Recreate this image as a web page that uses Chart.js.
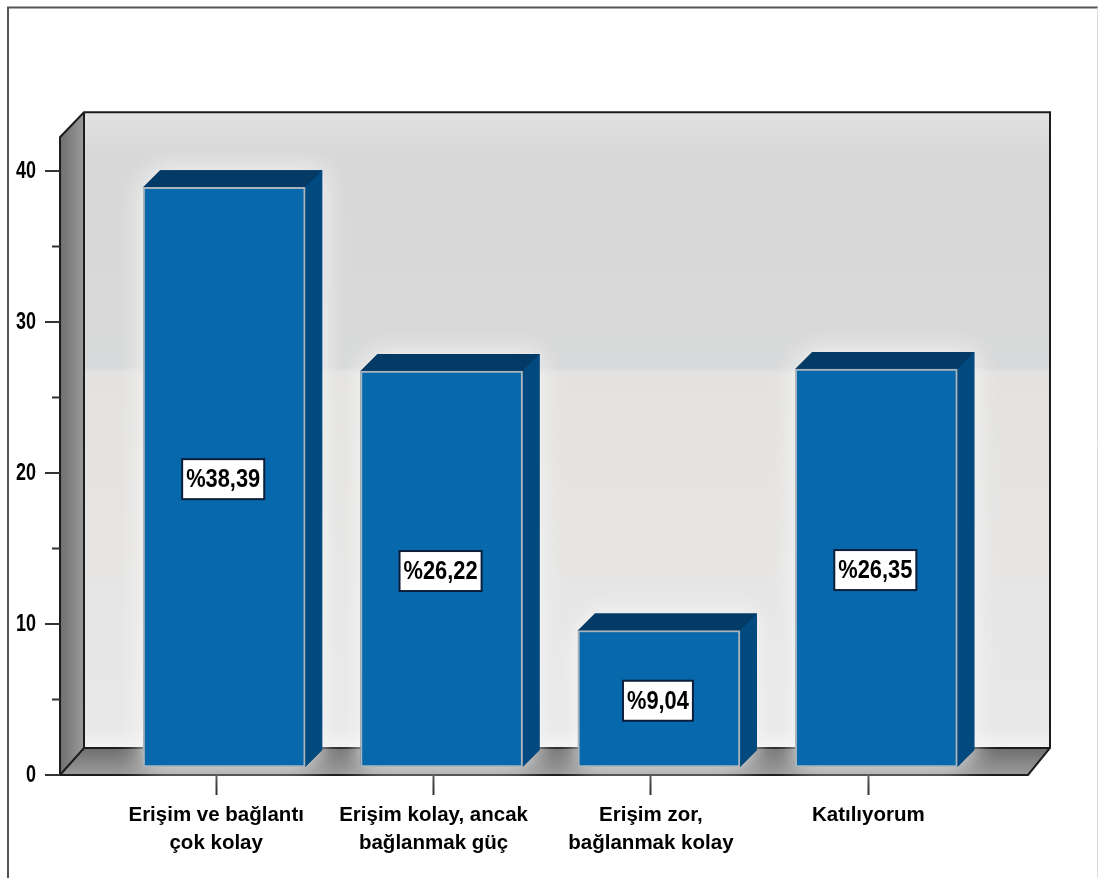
<!DOCTYPE html>
<html><head><meta charset="utf-8">
<style>html,body{margin:0;padding:0;background:#fff}canvas{display:block}</style>
<script src="https://cdn.jsdelivr.net/npm/chart.js@4"></script>
</head><body>
<canvas id="c" width="1101" height="878"></canvas>
<script>
const categories = [["Erişim ve bağlantı","çok kolay"],["Erişim kolay, ancak","bağlanmak güç"],["Erişim zor,","bağlanmak kolay"],["Katılıyorum",""]];
const values = [38.39, 26.22, 9.04, 26.35];
const pointLabels = ["%38,39","%26,22","%9,04","%26,35"];
const yTicks = [0,10,20,30,40];
const yMinorTicks = [5,15,25,35];

const SHIFT = 8, BAR_DEPTH = 17, WALL_DEPTH = 24;
const SANS = '"Liberation Sans",Arial,sans-serif';

function squeezedText(ctx,text,x,y,sx){
  ctx.save(); ctx.translate(x,y); ctx.scale(sx,1); ctx.fillText(text,0,0); ctx.restore();
}

const scene = {
  id:'scene',
  beforeDraw(chart){
    const {ctx, chartArea:a, scales:{y}} = chart;
    const y0 = y.getPixelForValue(0);
    const fl = a.left-47.5, fr = a.right+51;
    const bl = fl+WALL_DEPTH, br = fr+22, bb = y0-27, bt = a.top-21;
    ctx.save();
    ctx.fillStyle='#fff'; ctx.fillRect(0,0,chart.width,chart.height);
    ctx.strokeStyle='#555'; ctx.lineWidth=2;
    ctx.beginPath(); ctx.moveTo(8,878); ctx.lineTo(8,7.5); ctx.lineTo(1098,7.5); ctx.stroke();
    ctx.strokeStyle='#dcdcdc'; ctx.lineWidth=1;
    ctx.beginPath(); ctx.moveTo(1097.5,7.5); ctx.lineTo(1097.5,878); ctx.stroke();
    // back wall
    const g = ctx.createLinearGradient(0,bt,0,bb);
    g.addColorStop(0,'#e2e2e2'); g.addColorStop(.06,'#d8d8d8'); g.addColorStop(.4,'#d8d9da');
    g.addColorStop(.41,'#e3e2e0'); g.addColorStop(.97,'#e9e8e8'); g.addColorStop(1,'#f3f3f3');
    ctx.fillStyle=g; ctx.fillRect(bl,bt,br-bl,bb-bt);
    // side wall
    const gs = ctx.createLinearGradient(fl,0,bl,0);
    gs.addColorStop(0,'#6f6f6f'); gs.addColorStop(1,'#9a9a9a');
    ctx.fillStyle=gs;
    ctx.beginPath(); ctx.moveTo(fl,bt+25); ctx.lineTo(bl,bt); ctx.lineTo(bl,bb); ctx.lineTo(fl,y0); ctx.closePath(); ctx.fill();
    // floor
    const gf = ctx.createLinearGradient(0,bb,0,y0);
    gf.addColorStop(0,'#6e6e6e'); gf.addColorStop(1,'#9c9c9c');
    ctx.fillStyle=gf;
    ctx.beginPath(); ctx.moveTo(fl,y0); ctx.lineTo(bl,bb); ctx.lineTo(br,bb); ctx.lineTo(fr,y0); ctx.closePath(); ctx.fill();
    // edges
    ctx.strokeStyle='#1c1c1c'; ctx.lineWidth=2;
    ctx.beginPath();
    ctx.moveTo(fl,y0); ctx.lineTo(fl,bt+25); ctx.lineTo(bl,bt); ctx.lineTo(br,bt); ctx.lineTo(br,bb); ctx.lineTo(fr,y0); ctx.closePath();
    ctx.moveTo(fl,y0); ctx.lineTo(bl,bb); ctx.lineTo(br,bb);
    ctx.moveTo(bl,bt); ctx.lineTo(bl,bb);
    ctx.stroke();
    // y axis marks and labels
    ctx.strokeStyle='#333'; ctx.lineWidth=2;
    ctx.beginPath();
    yTicks.forEach(v=>{const p=y.getPixelForValue(v); ctx.moveTo(fl-15,p); ctx.lineTo(fl,p);});
    yMinorTicks.forEach(v=>{const p=y.getPixelForValue(v); ctx.moveTo(fl-8,p); ctx.lineTo(fl,p);});
    ctx.stroke();
    ctx.fillStyle='#000'; ctx.font='bold 23px '+SANS; ctx.textAlign='right'; ctx.textBaseline='middle';
    yTicks.forEach(v=>squeezedText(ctx,String(v),fl-24,y.getPixelForValue(v)+1,.78));
    ctx.restore();
  },
  beforeDatasetDraw(chart,args){
    const {ctx} = chart;
    ctx.save();
    ctx.translate(SHIFT,-SHIFT);
    args.meta.data.forEach(el=>{
      const {x,y,base,width} = el.getProps(['x','y','base','width'],true);
      const l=x-width/2, r=x+width/2, d=BAR_DEPTH;
      ctx.save();
      ctx.shadowColor='rgba(248,248,248,1)'; ctx.shadowBlur=26;
      ctx.fillStyle='#00406f';
      ctx.beginPath(); ctx.moveTo(l,y); ctx.lineTo(l+d,y-d); ctx.lineTo(r+d,y-d); ctx.lineTo(r+d,base-d); ctx.lineTo(r,base); ctx.lineTo(l,base); ctx.closePath(); ctx.fill();
      ctx.restore();
      ctx.fillStyle='#043a66';
      ctx.beginPath(); ctx.moveTo(l,y); ctx.lineTo(l+d,y-d); ctx.lineTo(r+d,y-d); ctx.lineTo(r,y); ctx.closePath(); ctx.fill();
      ctx.fillStyle='#004a80';
      ctx.beginPath(); ctx.moveTo(r,y); ctx.lineTo(r+d,y-d); ctx.lineTo(r+d,base-d); ctx.lineTo(r,base); ctx.closePath(); ctx.fill();
    });
  },
  afterDatasetDraw(chart){ chart.ctx.restore(); },
  afterDatasetsDraw(chart){
    const {ctx} = chart;
    const meta = chart.getDatasetMeta(0);
    ctx.save();
    ctx.font='bold 26px '+SANS;
    ctx.textAlign='center'; ctx.textBaseline='middle';
    const sx=.84;
    meta.data.forEach((el,i)=>{
      const {x,y,base} = el.getProps(['x','y','base'],true);
      const cx=x+SHIFT-1, cy=(y+base)/2-SHIFT+2;
      const w=ctx.measureText(pointLabels[i]).width*sx+8, h=40;
      ctx.fillStyle='#fff'; ctx.strokeStyle='#0a1e3c'; ctx.lineWidth=2;
      ctx.fillRect(cx-w/2,cy-h/2,w,h); ctx.strokeRect(cx-w/2,cy-h/2,w,h);
      ctx.fillStyle='#000'; squeezedText(ctx,pointLabels[i],cx,cy+1,sx);
    });
    ctx.restore();
  }
};

new Chart(document.getElementById('c'),{
  type:'bar',
  data:{labels:categories,datasets:[{data:values,backgroundColor:'#0868ac',borderColor:'#a9b4bc',borderWidth:2,borderSkipped:false,barThickness:162}]},
  plugins:[scene],
  options:{
    responsive:false,animation:false,
    layout:{padding:{left:0,top:133.25,right:124,bottom:0}},
    plugins:{legend:{display:false},title:{display:false},tooltip:{enabled:false}},
    scales:{
      x:{
        grid:{display:true,offset:false,drawOnChartArea:false,drawTicks:true,tickLength:20,tickColor:'#333',tickWidth:2},
        border:{display:false},
        ticks:{color:'#000',padding:6,maxRotation:0,autoSkip:false,font:{family:SANS,weight:'bold',size:20.5,lineHeight:1.37}},
        afterFit(s){s.height=103;}
      },
      y:{
        min:0,max:42.5,
        grid:{display:false,drawTicks:false},
        border:{display:false},
        ticks:{display:false,stepSize:10,includeBounds:false},
        afterFit(s){s.width=107.5;}
      }
    }
  }
});
</script>
</body></html>
